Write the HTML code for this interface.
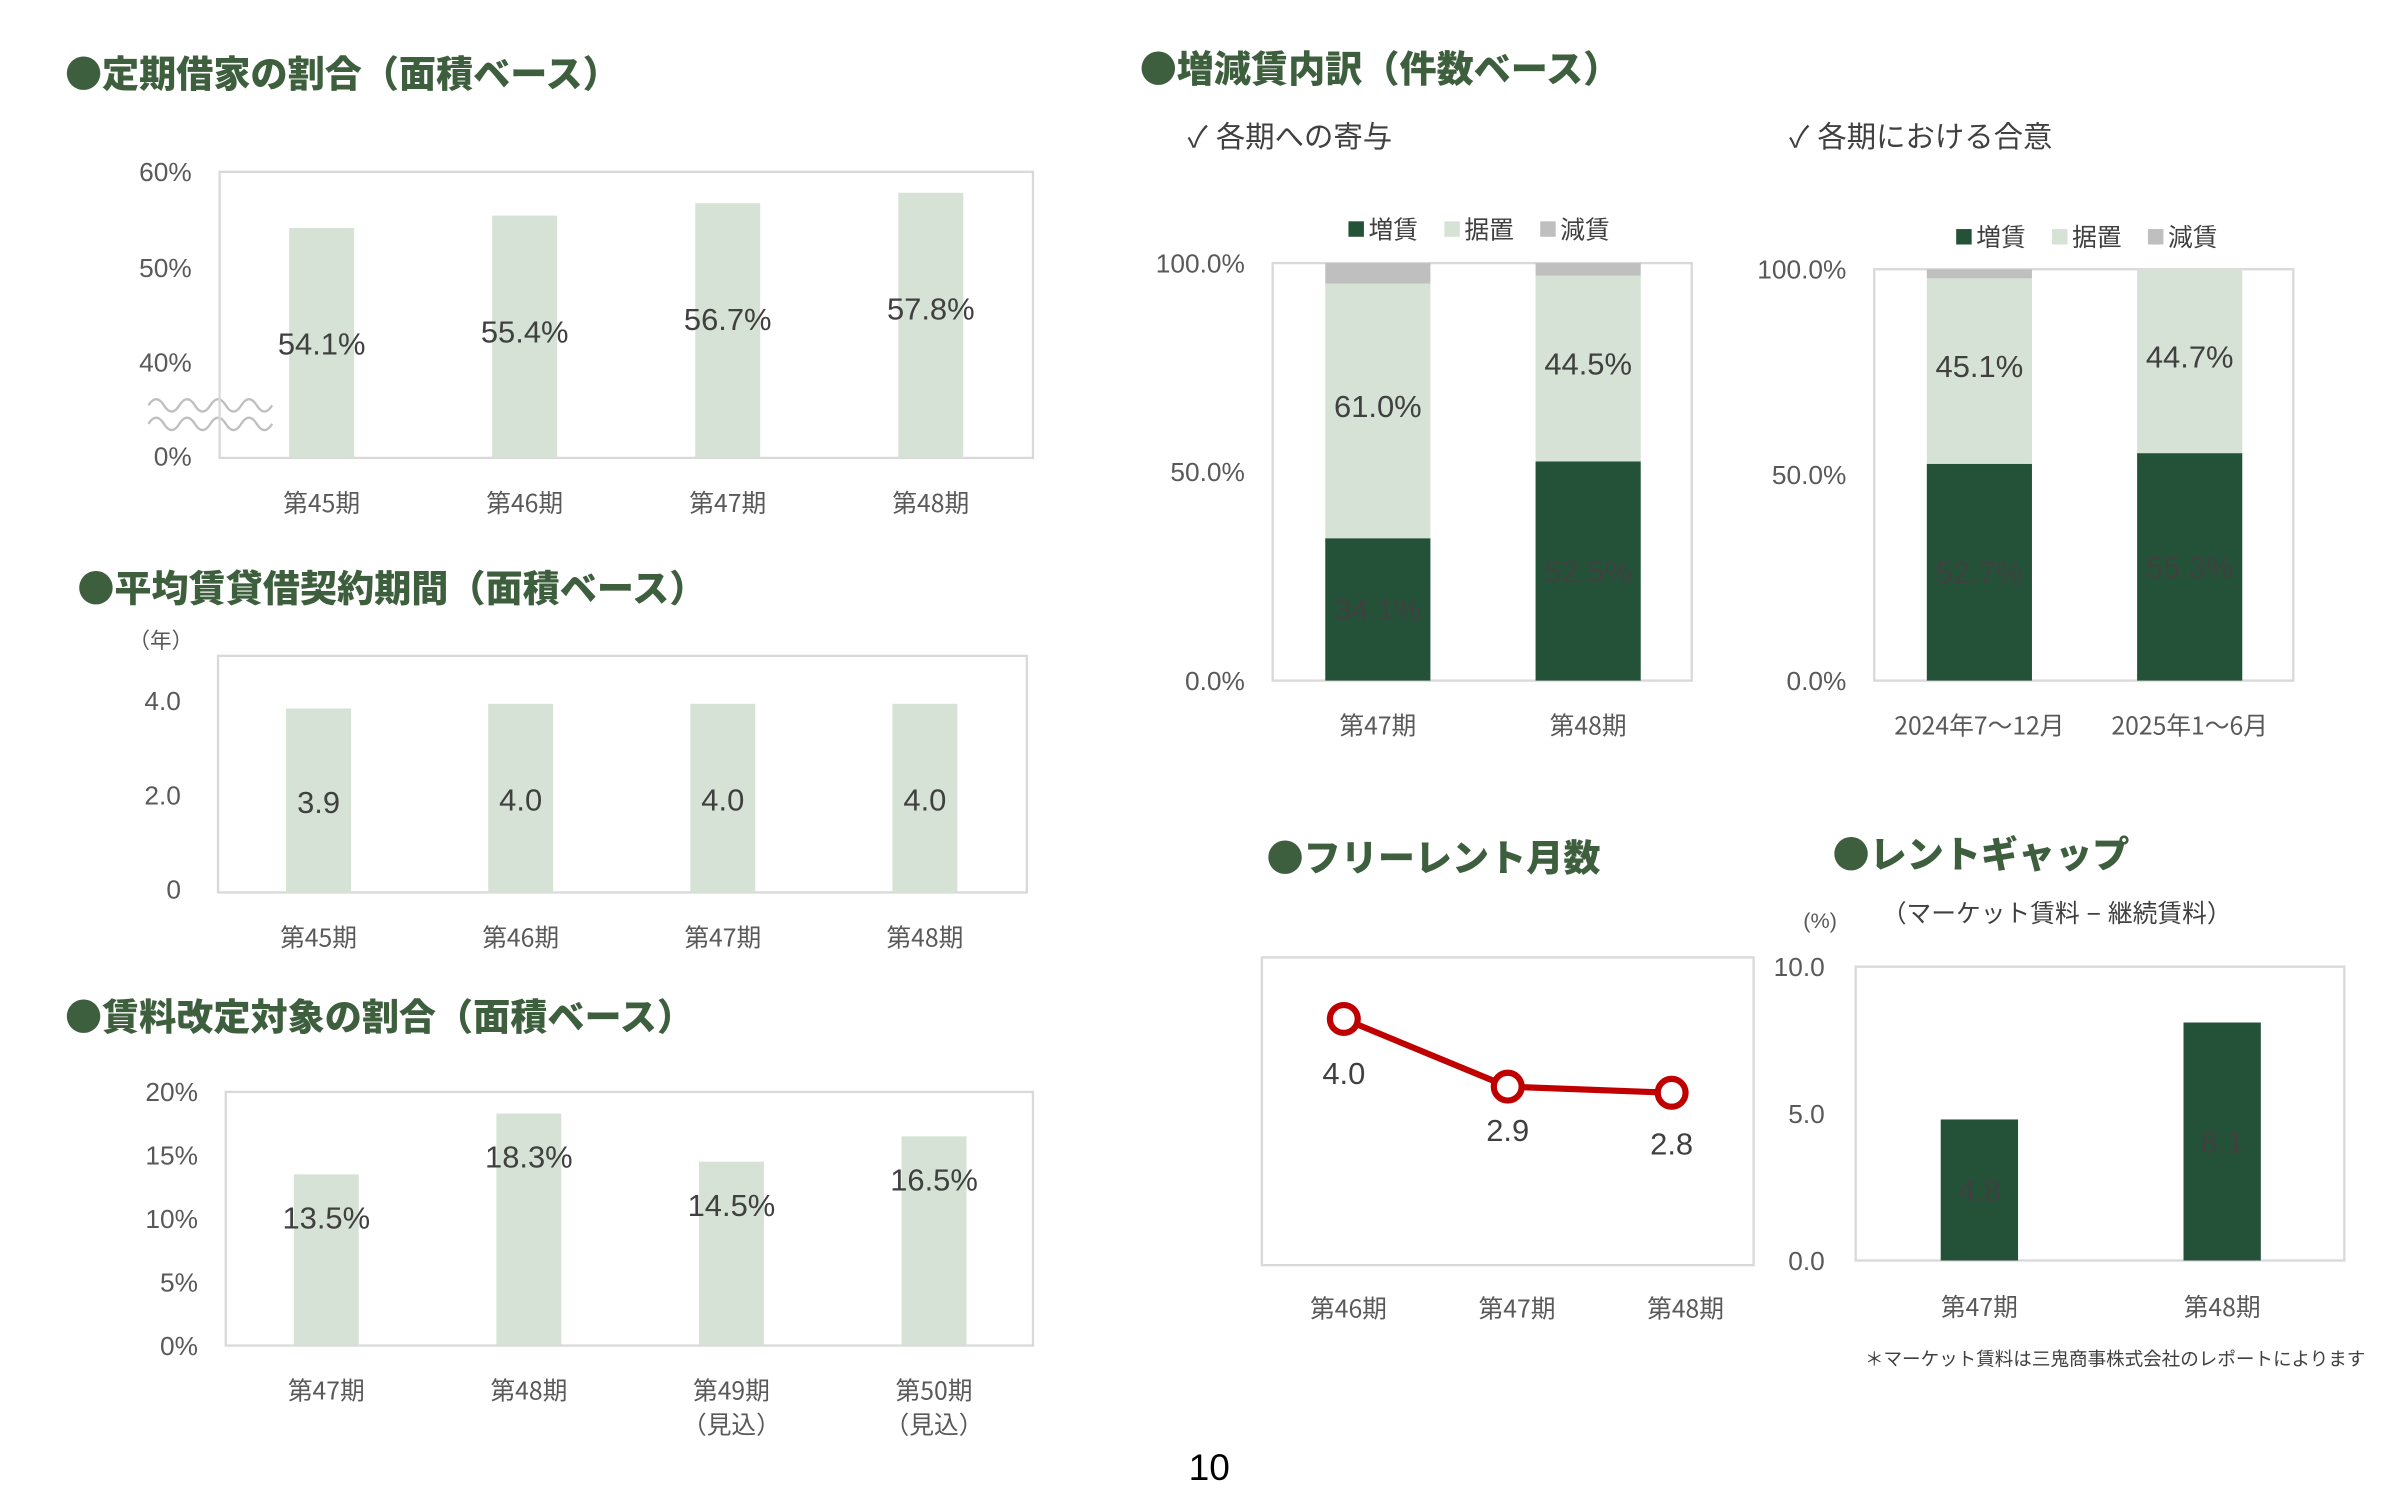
<!DOCTYPE html>
<html><head><meta charset="utf-8">
<style>
html,body{margin:0;padding:0;background:#fff;}
svg{display:block;}
text{font-family:"Liberation Sans","Noto Sans CJK JP",sans-serif;}
.ttl{font-family:"Noto Sans CJK JP",sans-serif;font-weight:900;fill:#3e5f3e;font-size:24px;}
.ax{fill:#595959;font-size:17px;}
.cat{fill:#595959;font-size:16px;font-family:"Noto Sans CJK JP",sans-serif;}
.val{fill:#404040;font-size:20px;}
.box{fill:none;stroke:#d9d9d9;stroke-width:1.5;}
</style></head>
<body>
<svg id="root" width="2400" height="1488" viewBox="0 0 1552 962" xmlns="http://www.w3.org/2000/svg">
<rect width="1552" height="962" fill="#fff"/>
<!-- titles -->
<text class="ttl" x="42" y="56">●定期借家の割合（面積ベース）</text>
<text class="ttl" x="50" y="389">●平均賃貸借契約期間（面積ベース）</text>
<text class="ttl" x="42" y="666">●賃料改定対象の割合（面積ベース）</text>
<text class="ttl" x="737" y="53">●増減賃内訳（件数ベース）</text>
<text class="ttl" x="819" y="563">●フリーレント月数</text>
<text class="ttl" x="1185" y="561">●レントギャップ</text>
<text x="768" y="95" font-size="19" fill="#404040" font-family="Noto Sans CJK JP,sans-serif">✓ 各期への寄与</text>
<text x="1157" y="95" font-size="19" fill="#404040" font-family="Noto Sans CJK JP,sans-serif">✓ 各期における合意</text>
<text x="104" y="419" font-size="14" fill="#595959" text-anchor="middle">（年）</text>
<text x="1177" y="600" font-size="14" fill="#595959" text-anchor="middle">(%)</text>
<text x="1330" y="596" font-size="16" fill="#404040" text-anchor="middle" font-family="Noto Sans CJK JP,sans-serif">（マーケット賃料 − 継続賃料）</text>
<text x="1206" y="883" font-size="12" fill="#404040" font-family="Noto Sans CJK JP,sans-serif">＊マーケット賃料は三鬼商事株式会社のレポートによります</text>
<text x="782" y="957" font-size="24" fill="#000" text-anchor="middle">10</text>
<!-- wavy break -->
<path d="M96 262 q5 -8 10 0 t10 0 t10 0 t10 0 t10 0 t10 0 t10 0 t10 0 M96 274 q5 -8 10 0 t10 0 t10 0 t10 0 t10 0 t10 0 t10 0 t10 0" fill="none" stroke="#bfbfbf" stroke-width="1.5"/>
<g id="g"></g>
</svg>
<script>
const c1Cats=['第45期','第46期','第47期','第48期'];
const c1Vals=[54.1,55.4,56.7,57.8];
const c1Ticks=['60%','50%','40%','0%'];
const c2Cats=['第45期','第46期','第47期','第48期'];
const c2Vals=[3.9,4.0,4.0,4.0];
const c2Ticks=['4.0','2.0','0'];
const c3Cats=['第47期','第48期','第49期','第50期'];
const c3Subs=['','','（見込）','（見込）'];
const c3Vals=[13.5,18.3,14.5,16.5];
const c3Ticks=['20%','15%','10%','5%','0%'];
const c4Cats=['第47期','第48期'];
const c4Inc=[34.1,52.5];
const c4Flat=[61.0,44.5];
const c4Dec=[4.9,3.0];
const c5Cats=['2024年7～12月','2025年1～6月'];
const c5Inc=[52.7,55.3];
const c5Flat=[45.1,44.7];
const c5Dec=[2.2,0];
const stTicks=['100.0%','50.0%','0.0%'];
const frCats=['第46期','第47期','第48期'];
const frVals=[4.0,2.9,2.8];
const gapCats=['第47期','第48期'];
const gapVals=[4.8,8.1];
const gapTicks=['10.0','5.0','0.0'];

const NS='http://www.w3.org/2000/svg';
const G=document.getElementById('g');
function mk(tag,attrs,txt){const e=document.createElementNS(NS,tag);for(const k in attrs)e.setAttribute(k,attrs[k]);if(txt!==undefined)e.textContent=txt;G.appendChild(e);return e;}
function box(x,y,w,h,name){const e=mk('rect',{x:x,y:y,width:w,height:h,class:'box'});

}
function tick(x,y,t,name){const e=mk('text',{x:x,y:y+6,class:'ax','text-anchor':'end'},t);

}
function cat(x,y,t,name){const e=mk('text',{x:x,y:y+6,class:'cat','text-anchor':'middle'},t);

}
function bar(x,w,y0,y1,fill,name){const e=mk('rect',{x:x-w/2,y:Math.min(y0,y1),width:w,height:Math.abs(y1-y0),fill:fill});

}
function val(x,y,t,fill,name){const e=mk('text',{x:x,y:y+7,class:'val','text-anchor':'middle',fill:fill},t);

}
const LG='#d5e2d5', DG='#235239', GR='#bfbfbf';

// chart 1
box(142,111,526,185,'fixed-term-plot-area');
const y1=v=>234-(v-40)*6.15;
const y1t=[111,173,234,295];
c1Ticks.forEach((t,i)=>tick(124,y1t[i],t,'fixed-term-y-tick'));
c1Vals.forEach((v,i)=>{const x=208+i*131.3;bar(x,42,y1(v),296,LG,'fixed-term-bar');val(x,y1(v)+75,v.toFixed(1)+'%','#404040','fixed-term-value');cat(x,325,c1Cats[i],'fixed-term-x-label');});

// chart 2
box(141,424,523,153,'lease-term-plot-area');
const y2=v=>577-v*30.5;
[4,2,0].forEach((v,i)=>tick(117,y2(v)-2,c2Ticks[i],'lease-term-y-tick'));
c2Vals.forEach((v,i)=>{const x=206+i*130.7;bar(x,42,y2(v),577,LG,'lease-term-bar');val(x,(y2(v)+577)/2+1,v.toFixed(1),'#404040','lease-term-value');cat(x,606,c2Cats[i],'lease-term-x-label');});

// chart 3
box(146,706,522,164,'rent-revision-plot-area');
const y3=v=>870-v*8.2;
[20,15,10,5,0].forEach((v,i)=>tick(128,y3(v),c3Ticks[i],'rent-revision-y-tick'));
c3Vals.forEach((v,i)=>{const x=211+i*131;bar(x,42,y3(v),870,LG,'rent-revision-bar');val(x,y3(v)+28,v.toFixed(1)+'%','#404040','rent-revision-value');cat(x,899,c3Cats[i],'rent-revision-x-label');if(c3Subs[i])cat(x,921,c3Subs[i],'rent-revision-forecast-note');});

// stacked charts
function legend(cx,y,pre){const items=[['増賃',DG],['据置',LG],['減賃',GR]];items.forEach((it,i)=>{const x=cx-85+i*62;const r=mk('rect',{x:x,y:y-5,width:10,height:10,fill:it[1]});


const t=mk('text',{x:x+13,y:y+6,'font-size':16,fill:'#404040','font-family':'Noto Sans CJK JP,sans-serif'},it[0]);

});}
function stacked(bx,top,bot,cats,inc,flat,dec,xs,pre){
 box(bx,top,1094-823,bot-top,pre+'-plot-area');
 const ys=v=>bot-v*(bot-top)/100;
 [100,50,0].forEach((v,i)=>tick(bx-18,ys(v),stTicks[i],pre+'-y-tick'));
 cats.forEach((c,i)=>{const x=xs[i];
  bar(x,68,ys(0),ys(inc[i]),DG,pre+'-increase-bar');
  bar(x,68,ys(inc[i]),ys(inc[i]+flat[i]),LG,pre+'-flat-bar');
  if(dec[i]>0)bar(x,68,ys(inc[i]+flat[i]),ys(inc[i]+flat[i]+dec[i]),GR,pre+'-decrease-bar');
  val(x,(ys(0)+ys(inc[i]))/2,inc[i].toFixed(1)+'%','#fff',pre+'-increase-value');
  val(x,(ys(inc[i])+ys(inc[i]+flat[i]))/2-3,flat[i].toFixed(1)+'%','#404040',pre+'-flat-value');
  cat(x,469,c,pre+'-x-label');});
}
legend(957,148,'contribution');
stacked(823,170,440,c4Cats,c4Inc,c4Flat,c4Dec,[891,1027],'contribution');
legend(1350,153,'agreement');
stacked(1212,174,440,c5Cats,c5Inc,c5Flat,c5Dec,[1280,1416],'agreement');

// free rent line
box(816,619,318,199,'free-rent-plot-area');
const y5=v=>818-v*39.8;
const x5=i=>869+i*106;
const pts=frVals.map((v,i)=>x5(i)+','+y5(v)).join(' ');
const ln=mk('polyline',{points:pts,fill:'none',stroke:'#c00000','stroke-width':4});


const offs=[35,28,33];
frVals.forEach((v,i)=>{const c=mk('circle',{cx:x5(i),cy:y5(v),r:9,fill:'#fff',stroke:'#c00000','stroke-width':4});


val(x5(i),y5(v)+offs[i],v.toFixed(1),'#404040','free-rent-value');
cat(x5(i)+3+i*3,846,frCats[i],'free-rent-x-label');});

// rent gap
box(1200,625,316,190,'rent-gap-plot-area');
const y6=v=>815-v*19;
[10,5,0].forEach((v,i)=>tick(1180,y6(v),gapTicks[i],'rent-gap-y-tick'));
gapVals.forEach((v,i)=>{const x=1280+i*157;bar(x,50,y6(v),815,DG,'rent-gap-bar');val(x,(y6(v)+815)/2,v.toFixed(1),'#fff','rent-gap-value');cat(x,845,gapCats[i],'rent-gap-x-label');});
</script>
</body></html>
